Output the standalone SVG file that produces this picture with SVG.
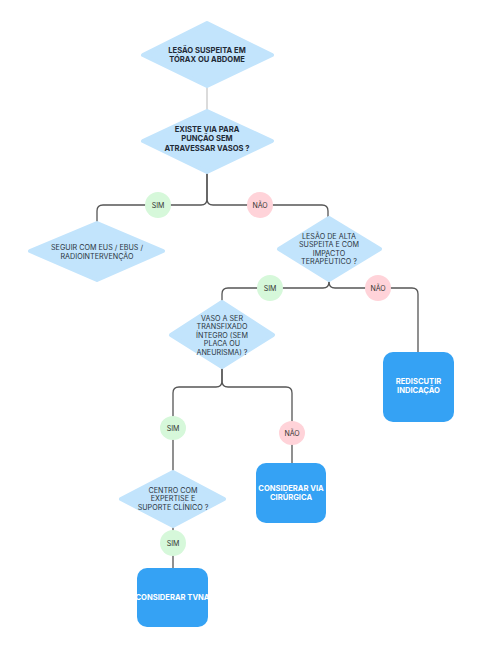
<svg xmlns="http://www.w3.org/2000/svg" width="480" height="650" viewBox="0 0 480 650">
<style>
.dia{fill:#c2e4fc}
.box{fill:#35a2f4}
.sim{fill:#d6f8da}
.nao{fill:#ffd3d9}
.t{font-family:Inter,"Liberation Sans",sans-serif;font-size:7.2px;fill:#2b3440;text-anchor:middle}
.tb{font-family:Inter,"Liberation Sans",sans-serif;font-size:7.6px;font-weight:700;fill:#1f2a36;text-anchor:middle}
.tw{font-family:Inter,"Liberation Sans",sans-serif;font-size:7.6px;font-weight:700;fill:#ffffff;text-anchor:middle}
.lbl{font-family:Inter,"Liberation Sans",sans-serif;font-size:7px;fill:#333;text-anchor:middle}
.c{fill:none;stroke:#555;stroke-width:1.3}
</style>
<rect width="480" height="650" fill="#ffffff"/>
<g id="connectors">
<path d="M207,86 V111" fill="none" stroke="#c8c8c8" stroke-width="1.3"/>
<path d="M207,172 V199 Q207,205 201,205 H103 Q97,205 97,211 V223" class="c"/>
<path d="M207,172 V199 Q207,205 213,205 H322 Q328,205 328,211 V218" class="c"/>
<path d="M329,279 V282 Q329,288 323,288 H228 Q222,288 222,294 V302" class="c"/>
<path d="M329,279 V282 Q329,288 335,288 H412 Q418,288 418,294 V352" class="c"/>
<path d="M222,367 V381 Q222,387 216,387 H179 Q173,387 173,393 V472" class="c"/>
<path d="M222,367 V381 Q222,387 228,387 H286 Q292,387 292,393 V463" class="c"/>
<path d="M173,526 V568" class="c"/>
</g>
<g id="n1">
<polygon class="dia" points="207,23 272,55 207,86 143,55" stroke="#c2e4fc" stroke-width="4" stroke-linejoin="round"/>
<text class="tb" x="207" y="53">LESÃO SUSPEITA EM</text>
<text class="tb" x="207" y="62">TÓRAX OU ABDOME</text>
</g>
<g id="n2">
<polygon class="dia" points="207,111 272,141 207,172 143,141" stroke="#c2e4fc" stroke-width="4" stroke-linejoin="round"/>
<text class="tb" x="207" y="132">EXISTE VIA PARA</text>
<text class="tb" x="207" y="141">PUNÇÃO SEM</text>
<text class="tb" x="207" y="151">ATRAVESSAR VASOS ?</text>
</g>
<g id="l1"><circle class="sim" cx="158" cy="205" r="13"/><text class="lbl" x="158" y="207.5">SIM</text></g>
<g id="l2"><circle class="nao" cx="260" cy="205" r="13"/><text class="lbl" x="260" y="207.5">NÃO</text></g>
<g id="n3">
<polygon class="dia" points="97,223 163,251 97,280 30,251" stroke="#c2e4fc" stroke-width="4" stroke-linejoin="round"/>
<text class="t" x="97" y="250">SEGUIR COM EUS / EBUS /</text>
<text class="t" x="97" y="259">RADIOINTERVENÇÃO</text>
</g>
<g id="n4">
<polygon class="dia" points="329,218 380,249 329,280 279,249" stroke="#c2e4fc" stroke-width="4" stroke-linejoin="round"/>
<text class="t" x="329" y="238.5">LESÃO DE ALTA</text>
<text class="t" x="329" y="247">SUSPEITA E COM</text>
<text class="t" x="329" y="255.5">IMPACTO</text>
<text class="t" x="329" y="264">TERAPÊUTICO ?</text>
</g>
<g id="l3"><circle class="sim" cx="270" cy="288" r="13"/><text class="lbl" x="270" y="290.5">SIM</text></g>
<g id="l4"><circle class="nao" cx="378" cy="288" r="13"/><text class="lbl" x="378" y="290.5">NÃO</text></g>
<g id="n5">
<polygon class="dia" points="222,302 273,335 222,367 171,335" stroke="#c2e4fc" stroke-width="4" stroke-linejoin="round"/>
<text class="t" x="222" y="320.5">VASO A SER</text>
<text class="t" x="222" y="329">TRANSFIXADO</text>
<text class="t" x="222" y="337.5">ÍNTEGRO (SEM</text>
<text class="t" x="222" y="346">PLACA OU</text>
<text class="t" x="222" y="354.5">ANEURISMA) ?</text>
</g>
<g id="n6">
<rect class="box" x="383" y="352" width="71" height="70" rx="10"/>
<text class="tw" x="418.5" y="384">REDISCUTIR</text>
<text class="tw" x="418.5" y="393">INDICAÇÃO</text>
</g>
<g id="l5"><ellipse class="sim" cx="173" cy="428" rx="13" ry="12"/><text class="lbl" x="173" y="430.5">SIM</text></g>
<g id="l6"><ellipse class="nao" cx="292" cy="433" rx="13" ry="12"/><text class="lbl" x="292" y="435.5">NÃO</text></g>
<g id="n7">
<polygon class="dia" points="173,472 224,499 173,526 121,499" stroke="#c2e4fc" stroke-width="4" stroke-linejoin="round"/>
<text class="t" x="173" y="492.5">CENTRO COM</text>
<text class="t" x="173" y="501">EXPERTISE E</text>
<text class="t" x="173" y="509.5">SUPORTE CLÍNICO ?</text>
</g>
<g id="n8">
<rect class="box" x="256" y="463" width="70" height="60" rx="10"/>
<text class="tw" x="291" y="491">CONSIDERAR VIA</text>
<text class="tw" x="291" y="500">CIRÚRGICA</text>
</g>
<g id="l7"><circle class="sim" cx="173" cy="543" r="13"/><text class="lbl" x="173" y="545.5">SIM</text></g>
<g id="n9">
<rect class="box" x="137" y="568" width="71" height="59" rx="10"/>
<text class="tw" x="172.5" y="600">CONSIDERAR TVNA</text>
</g>
</svg>
